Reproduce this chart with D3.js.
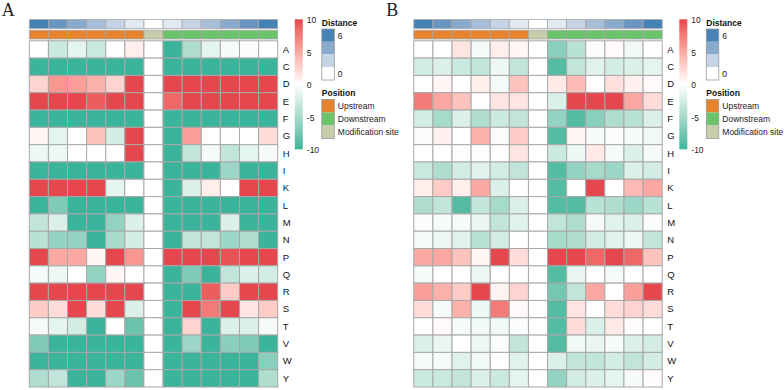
<!DOCTYPE html>
<html><head><meta charset="utf-8">
<script src="https://cdn.jsdelivr.net/npm/d3@7"></script>
<style>body{margin:0;background:#fff}svg{display:block}text{font-family:Arial,"Liberation Sans",sans-serif}</style>
</head><body><svg id="c" width="784" height="390"></svg>
<script>
const rows = ["A","C","D","E","F","G","H","I","K","L","M","N","P","Q","R","S","T","V","W","Y"];
const distances = [6,5,4,3,2,1,0,1,2,3,4,5,6];
const positions = ["Upstream","Upstream","Upstream","Upstream","Upstream","Upstream","Modification site","Downstream","Downstream","Downstream","Downstream","Downstream","Downstream"];
const positionLevels = ["Upstream","Downstream","Modification site"];
const colorTicks = [10,5,0,-5,-10];
const distanceTicks = [6,0];

const valuesA = [
 [0,-3,-1.5,-3,0,1,0,-10,-4.5,-1.5,-0.5,-0.3,0],
 [-10,-10,-10,-10,-10,-10,0,-10,-10,-10,-10,-10,-10],
 [2.5,6,5.5,4.5,2.5,10,0,10,10,10,10,10,10],
 [10,10,10,9,10,10,0,8.5,10,10,10,10,10],
 [-10,-10,-10,-10,-10,-10,0,-10,-10,-10,-10,-10,-10],
 [0.5,-1.5,0,3.5,-2.5,10,0,-10,5.5,0,0,0,2],
 [-1,-1,0,0,0,10,0,-10,-3.5,-0.5,-3.5,-1.5,-0.5],
 [-10,-10,-10,-10,-10,-10,0,-10,-10,-10,-5.5,-10,-10],
 [10,10,10,10,-1.5,0,0,-10,-2,1,0,10,10],
 [-10,-7,-10,-10,-10,-10,0,-10,-10,-10,-10,-10,-10],
 [-3.5,-2,-10,-10,-6,-2,0,-10,-10,-10,-2,-10,-10],
 [-4,-6,-6,-10,-5,-2.5,0,-10,-3.5,-3.5,-5.5,-4.5,-10],
 [10,5,5,0.5,10,6,0,10,10,10,9.5,10,10],
 [-0.5,-1,0,-6,0.5,0,0,-10,-7,-10,-3.5,-2,-2.5],
 [10,10,10,10,10,10,0,-10,-10,9,3,10,10],
 [3,2,10,2,10,-2,0,-10,10,7.5,10,1.5,3],
 [-0.5,-1.5,-2.5,-10,0,-8,0,-10,2.5,-10,-2,-2,-0.5],
 [-7,-10,-10,-10,-10,-10,0,-10,-5.5,-10,-6.5,-7,-10],
 [-10,-10,-10,-10,-10,-10,0,-10,-10,-10,-10,-10,-6.5],
 [-4.5,-3.5,-10,-10,-5.5,-8,0,-10,-10,-10,-10,-10,-4.5]
];
const valuesB = [
 [0,0,1.5,-0.7,1,0.5,0,-6.5,-4,-0.3,0.3,-0.8,0],
 [-2.5,-2,-3,-3.5,-1,-3.5,0,-9,-3.5,-1.8,-2.5,-2,-1.5],
 [0,0.5,0,1,-0.7,3.5,0,1.2,4,0,1.8,0.8,0.3],
 [7.5,5,3.5,0,1.5,1.5,0,-2,10,10,10,5,2],
 [-2.5,-5,-2,-4.5,-3,-3.5,0,-6,-9,-6.5,-4.5,-4,-2],
 [-0.3,0.8,0,4.5,-0.3,3,0,-9,0.5,-0.5,-0.3,-0.5,-0.8],
 [0,0,-0.2,-0.2,0,1.5,0,-3,-1,1.2,-0.5,-2,-0.5],
 [-3,-4.5,-2.5,-1.8,-2.5,-3.5,0,-9,-6,-5,-5.5,-2,-2.5],
 [1,3,1,5,-2,0,0,-9,0,10,0,4,5],
 [-4.5,-3.5,-9,-3.5,-5,-2,0,-9,-9,-4,-4.5,-5.5,-4],
 [-0.3,-0.5,-0.6,-1.2,-3.5,-1.8,0,-3.5,-4.5,-0.5,-1.8,-2,-0.3],
 [-0.6,-1,-1.8,-4,-2.5,0,0,-5,-4.5,-2.5,-1.8,-1,-3.5],
 [5,5,3.5,0.5,10,2,0,10,10,8.5,10,8.5,3.5],
 [-0.6,0,0,-1,0,0,0,-9,-1.2,0,-0.6,0,0],
 [5.5,4.5,3,10,0.7,2.5,0,-7.5,-3.5,5,0,5.5,10],
 [2,-0.5,4.5,-1,7.5,0.3,0,-9,1.5,0,2,2.5,2],
 [0,0.3,-0.6,-0.8,-0.8,-0.3,0,-9,2,-2,1.2,0.2,0],
 [-2,-1.2,0,-1,-0.3,-3.5,0,-9,-0.8,-1.2,-0.5,-2,-2.5],
 [-0.5,-0.5,-1.8,-0.8,0,-1.8,0,-2,-3.5,-3.5,-2.5,-3.5,-2.5],
 [-3,-3,-3.5,-2,-3,-1.5,0,-6,-2.5,-2,-1.5,-0.5,0.2]
];

const svg = d3.select("#c");
const col = d3.scaleLinear().domain([-10,0,10]).range(["#3AB49A","#ffffff","#E5474E"]).interpolate(d3.interpolateLab).clamp(true);
const distCol = d3.scaleLinear().domain([0,6]).range(["#ffffff","#4682B4"]).interpolate(d3.interpolateLab);
const posCol = d3.scaleOrdinal().domain(positionLevels).range(["#E6832E","#6BC46A","#C9CCAB"]);
const grid = "#A8A8A8";

function panel(x0, label, values, gid){
  const g = svg.append("g");
  const x = d3.scaleBand().domain(d3.range(distances.length)).range([x0, x0+248.4]);
  const y = d3.scaleBand().domain(rows).range([40.8, 387]);
  g.append("text").attr("x", x0-27.5).attr("y", 16).text(label)
   .style("font-family","'Liberation Serif','Times New Roman',serif").style("font-size","18px").attr("fill","#222");
  g.selectAll(".d").data(distances).join("rect")
   .attr("x",(d,i)=>x(i)).attr("y",19.6).attr("width",x.bandwidth()).attr("height",8.8)
   .attr("fill",d=>distCol(d)).attr("stroke",grid).attr("stroke-width",0.8);
  g.selectAll(".p").data(positions).join("rect")
   .attr("x",(d,i)=>x(i)).attr("y",30.2).attr("width",x.bandwidth()).attr("height",8.8)
   .attr("fill",d=>posCol(d)).attr("stroke",grid).attr("stroke-width",0.8);
  rows.forEach((r,ri)=>{
    g.selectAll(".c"+ri).data(values[ri]).join("rect")
     .attr("x",(d,i)=>x(i)).attr("y",y(r)).attr("width",x.bandwidth()).attr("height",y.bandwidth())
     .attr("fill",d=>col(d)).attr("stroke",grid).attr("stroke-width",1);
  });
  g.selectAll(".rl").data(rows).join("text")
   .attr("x", x0+248.4+5).attr("y", d=>y(d)+y.bandwidth()/2).attr("dy","0.35em")
   .style("font-size","9.5px").attr("fill","#111").text(d=>d);
  const lx = x0+265.5;
  const grad = svg.append("defs").append("linearGradient").attr("id",gid)
    .attr("x1",0).attr("x2",0).attr("y1",1).attr("y2",0);
  d3.range(0,21).forEach(i=>{
    const v = -10 + i;
    grad.append("stop").attr("offset",(i/20)).attr("stop-color",col(v));
  });
  g.append("rect").attr("x",lx).attr("y",19.3).attr("width",8).attr("height",130).attr("fill",`url(#${gid})`);
  const ly = d3.scaleLinear().domain([10,-10]).range([20.5,150.5]);
  g.selectAll(".ct").data(colorTicks).join("text")
   .attr("x",lx+12).attr("y",d=>ly(d)).attr("dy","0.35em").style("font-size","8.5px").attr("fill","#222").text(d=>d);
  const dx = lx+27;
  g.append("text").attr("x",dx).attr("y",26).style("font-size","8.5px").style("font-weight","bold").attr("fill","#111").text("Distance");
  const dLev = [6,4,2,0];
  g.selectAll(".dl").data(dLev).join("rect")
   .attr("x",dx).attr("y",(d,i)=>29+i*12.75).attr("width",12.5).attr("height",12.75)
   .attr("fill",d=>distCol(d));
  g.append("rect").attr("x",dx).attr("y",29).attr("width",12.5).attr("height",51).attr("fill","none").attr("stroke","#999").attr("stroke-width",0.8);
  g.selectAll(".dt").data(distanceTicks).join("text")
   .attr("x",dx+16).attr("y",d=>d===6?36:74.5).attr("dy","0.35em").style("font-size","8.5px").attr("fill","#222").text(d=>d);
  g.append("text").attr("x",dx).attr("y",96).style("font-size","8.5px").style("font-weight","bold").attr("fill","#111").text("Position");
  g.selectAll(".pl").data(positionLevels).join("rect")
   .attr("x",dx).attr("y",(d,i)=>99.5+i*13).attr("width",12.5).attr("height",13)
   .attr("fill",d=>posCol(d));
  g.append("rect").attr("x",dx).attr("y",99.5).attr("width",12.5).attr("height",39).attr("fill","none").attr("stroke","#999").attr("stroke-width",0.8);
  g.selectAll(".pt").data(positionLevels).join("text")
   .attr("x",dx+16).attr("y",(d,i)=>106+i*13).attr("dy","0.35em").style("font-size","8.5px").attr("fill","#222").text(d=>d);
}
panel(29.3, "A", valuesA, "gA");
panel(413.8, "B", valuesB, "gB");
</script></body></html>
